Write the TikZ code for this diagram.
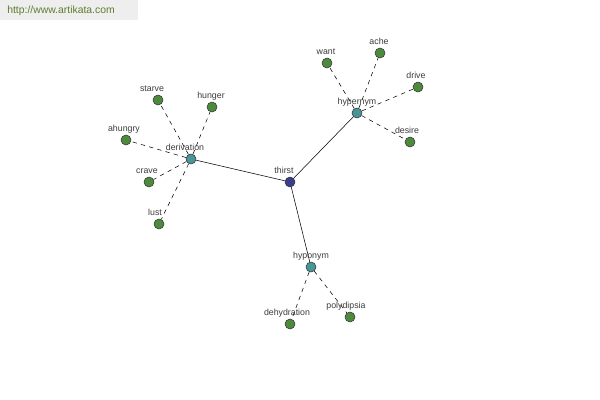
\documentclass[tikz,border=0pt]{standalone}
\usepackage{fontspec}
\setmainfont{Liberation Sans}
\usetikzlibrary{positioning}
\definecolor{leafgreen}{RGB}{78,138,62}
\definecolor{relteal}{RGB}{72,150,150}
\definecolor{rootblue}{RGB}{60,60,140}
\definecolor{labelgray}{RGB}{60,60,60}
\definecolor{markgray}{RGB}{238,238,238}
\definecolor{markgreen}{RGB}{95,125,45}

\tikzset{
    word/.style={circle, draw=black!80, thin, inner sep=0pt, minimum size=7.5pt},
    leaf/.style={word, fill=leafgreen},
    relation/.style={word, fill=relteal},
    root/.style={word, fill=rootblue},
    lbl/.style={font=\fontsize{6.6}{7}\selectfont, text=labelgray, inner sep=0pt, text height=4.8pt, text depth=1.4pt},
    weak/.style={dash pattern=on 3.2pt off 3.2pt, thin},
    strong/.style={thin}
}

\begin{document}
\begin{tikzpicture}[x=0.75pt, y=-0.75pt]

    % Canvas
    \useasboundingbox (0,0) rectangle (600,400);
    \fill[white] (0,0) rectangle (600,400);

    % Watermark
    \fill[markgray] (0,0) rectangle (138,20);
    \node[font=\fontsize{7.8}{9}\selectfont, text=markgreen, anchor=west, inner sep=0pt] (mark) at (7,11) {http://www.artikata.com};

    % Root and relation nodes
    \node[root] (thirst) at (290,182) {};
    \node[relation] (derivation) at (191,159) {};
    \node[relation] (hypernym) at (357,113) {};
    \node[relation] (hyponym) at (311,267) {};

    % Leaf words
    \foreach \name/\x/\y in {starve/158/100, hunger/212/107, ahungry/126/140, crave/149/182, lust/159/224,
                             want/327/63, ache/380/53, drive/418/87, desire/410/142,
                             dehydration/290/324, polydipsia/350/317} {
        \node[leaf] (\name) at (\x,\y) {};
    }

    % Links
    \draw[strong] (thirst) -- (derivation);
    \draw[strong] (thirst) -- (hypernym);
    \draw[strong] (thirst) -- (hyponym);
    \foreach \name in {starve, hunger, ahungry, crave, lust}
        \draw[weak] (derivation) -- (\name);
    \foreach \name in {want, ache, drive, desire}
        \draw[weak] (hypernym) -- (\name);
    \foreach \name in {dehydration, polydipsia}
        \draw[weak] (hyponym) -- (\name);

    % Word labels
    \foreach \name/\dx in {thirst/-6, derivation/-6, hypernym/0, hyponym/0,
                           starve/-6, hunger/-1, ahungry/-2, crave/-2, lust/-4,
                           want/-1, ache/-1, drive/-2, desire/-3,
                           dehydration/-3, polydipsia/-4} {
        \node[lbl, above=1.2pt of \name, xshift=\dx*0.75pt] (\name-lbl) {\name};
    }

\end{tikzpicture}
\end{document}
